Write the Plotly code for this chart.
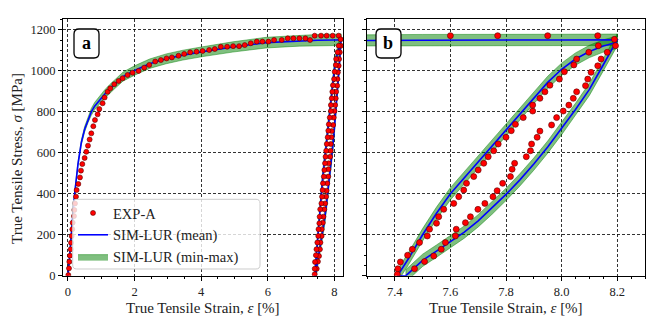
import plotly.graph_objects as go

W, H = 664, 332

# ---------------- data ----------------
# experimental: loading branch
exp_load_x = [0.01, 0.03, 0.04, 0.06, 0.08, 0.09, 0.11, 0.13, 0.14, 0.18, 0.19, 0.21, 0.24, 0.26,
              0.31, 0.36, 0.39, 0.43, 0.50, 0.55, 0.60, 0.65, 0.70, 0.76, 0.81, 0.89, 0.94, 1.04,
              1.10, 1.19, 1.27, 1.39, 1.52, 1.64, 1.79, 1.94, 2.12, 2.29, 2.44, 2.62, 2.79, 2.96,
              3.12, 3.32, 3.49, 3.67, 3.86, 4.04, 4.24, 4.41, 4.59, 4.78, 4.96, 5.14, 5.31, 5.49,
              5.67, 5.84, 6.02, 6.19, 6.42, 6.60, 6.77, 6.95, 7.13, 7.27, 7.41, 7.60, 7.77, 7.95,
              8.13, 8.19]
exp_load_y = [3, 36, 68, 98, 129, 161, 194, 227, 259, 291, 321, 353, 386, 418,
              448, 480, 513, 545, 575, 605, 635, 665, 695, 730, 760, 788, 814, 842,
              870, 898, 915, 935, 951, 964, 980, 991, 1000, 1016, 1029, 1046, 1053, 1061,
              1066, 1074, 1083, 1091, 1094, 1097, 1102, 1107, 1118, 1118, 1121, 1121, 1126, 1135,
              1143, 1143, 1143, 1151, 1151, 1159, 1159, 1159, 1159, 1151, 1172, 1172, 1172, 1172,
              1172, 1154]
# experimental: unloading branch
exp_unl_x = [8.194, 8.164, 8.142, 8.130, 8.106, 8.094, 8.086, 8.054, 8.042, 8.026, 8.006, 7.982,
             7.964, 7.922, 7.912, 7.892, 7.888, 7.873, 7.831, 7.822, 7.816, 7.788, 7.768, 7.753,
             7.724, 7.699, 7.672, 7.654, 7.621, 7.618, 7.582, 7.567, 7.540, 7.507, 7.471]
exp_unl_y = [1123, 1091, 1058, 1025, 993, 960, 928, 898, 866, 833, 804, 772,
             736, 706, 676, 643, 610, 581, 549, 520, 484, 451, 415, 386,
             353, 324, 288, 259, 227, 194, 162, 129, 96, 69, 34]
# experimental: reloading branch
exp_rel_x = [7.409, 7.411, 7.420, 7.446, 7.463, 7.489, 7.517, 7.525, 7.550, 7.558, 7.576, 7.612,
             7.630, 7.648, 7.658, 7.684, 7.700, 7.720, 7.736, 7.756, 7.772, 7.800, 7.819, 7.834,
             7.862, 7.896, 7.896, 7.922, 7.940, 7.958, 7.992, 8.010, 8.044, 8.054, 8.098, 8.132]
exp_rel_y = [7, 34, 67, 100, 129, 162, 194, 227, 256, 288, 324, 353,
             386, 418, 451, 484, 516, 549, 581, 610, 643, 676, 708, 739,
             772, 804, 833, 866, 898, 930, 960, 996, 1029, 1058, 1091, 1123]

# simulation: loading
sim_load_x = [0, 0.1, 0.2, 0.3, 0.4, 0.5, 0.6, 0.7, 0.8, 0.95, 1.1, 1.25, 1.4, 1.65, 2.0, 2.45,
              2.95, 3.45, 4.05, 4.95, 5.95, 6.95, 7.5, 8.0, 8.2]
sim_load_mean = [0, 200, 400, 545, 650, 715, 762, 800, 828, 858, 886, 912, 935, 972, 1002, 1035,
                 1059, 1077, 1094, 1117, 1138, 1148, 1150, 1151, 1152]
sim_load_max = [0, 204, 407, 554, 661, 728, 777, 817, 846, 878, 907, 933, 957, 994, 1025, 1058,
                1083, 1101, 1118, 1142, 1164, 1175, 1178, 1179, 1180]
sim_load_min = [0, 196, 393, 536, 639, 702, 747, 783, 810, 838, 865, 891, 913, 950, 979, 1012,
                1035, 1053, 1070, 1092, 1112, 1121, 1122, 1123, 1124]
# simulation: unloading
sim_unl_x = [8.2, 8.15, 8.1, 8.05, 8.0, 7.95, 7.9, 7.85, 7.8, 7.75, 7.7, 7.65, 7.6, 7.55, 7.5, 7.45, 7.44]
sim_unl_mean = [1152, 1030, 910, 812, 718, 628, 545, 468, 397, 330, 268, 213, 165, 120, 75, 12, 0]
sim_unl_max = [1182, 1060, 940, 842, 748, 658, 575, 498, 427, 360, 298, 243, 195, 150, 105, 42, 30]
sim_unl_min = [1122, 1000, 880, 782, 688, 598, 515, 438, 367, 300, 238, 183, 135, 90, 45, -18, -30]
# simulation: reloading
sim_rel_x = [7.41, 7.45, 7.5, 7.55, 7.6, 7.65, 7.7, 7.75, 7.8, 7.85, 7.9, 7.95, 8.0, 8.05, 8.1, 8.15, 8.2]
sim_rel_mean = [0, 85, 200, 305, 400, 478, 555, 632, 710, 790, 870, 944, 1008, 1058, 1095, 1122, 1140]
sim_rel_max = [30, 115, 230, 335, 430, 508, 585, 662, 740, 820, 900, 974, 1038, 1088, 1125, 1152, 1170]
sim_rel_min = [-30, 55, 170, 275, 370, 448, 525, 602, 680, 760, 840, 914, 978, 1028, 1065, 1092, 1110]

left_xticks = [0, 2, 4, 6, 8]
right_xticks = [7.4, 7.6, 7.8, 8.0, 8.2]
yticks = [0, 200, 400, 600, 800, 1000, 1200]

FONT = "'Liberation Serif', 'DejaVu Serif', serif"
BAND_FILL = "rgba(0,128,0,0.5)"
BAND_LINE = "rgba(0,128,0,0.45)"

fig = go.Figure()

exp_x = exp_load_x + exp_unl_x + exp_rel_x
exp_y = exp_load_y + exp_unl_y + exp_rel_y
sim_x = sim_load_x + sim_unl_x + sim_rel_x
sim_y = sim_load_mean + sim_unl_mean + sim_rel_mean

bands = [(sim_load_x, sim_load_min, sim_load_max),
         (sim_unl_x, sim_unl_min, sim_unl_max),
         (sim_rel_x, sim_rel_min, sim_rel_max)]

for ax, msize, first in [("", 5.0, True), ("2", 6.0, False)]:
    xa, ya = "x" + ax, "y" + ax
    for i, (bx, bmin, bmax) in enumerate(bands):
        fig.add_trace(go.Scatter(
            x=list(bx) + list(bx)[::-1], y=list(bmax) + list(bmin)[::-1],
            fill="toself", fillcolor=BAND_FILL, mode="lines",
            line=dict(color=BAND_LINE, width=1),
            name="SIM-LUR (min-max)", legendgroup="band", legendrank=3,
            showlegend=(first and i == 0), xaxis=xa, yaxis=ya, hoverinfo="skip"))
    fig.add_trace(go.Scatter(
        x=sim_x, y=sim_y, mode="lines", line=dict(color="#0000ff", width=1.6),
        name="SIM-LUR (mean)", legendgroup="mean", legendrank=2,
        showlegend=first, xaxis=xa, yaxis=ya))
    fig.add_trace(go.Scatter(
        x=exp_x, y=exp_y, mode="markers",
        marker=dict(color="#ff0000", size=msize, line=dict(color="#5a0000", width=0.6)),
        name="EXP-A", legendgroup="exp", legendrank=1,
        showlegend=first, xaxis=xa, yaxis=ya))

def px2paper(px, py):
    return px / W, 1 - py / H

def rrect(x0, y0, x1, y1, r):
    def P(x, y):
        a, b = px2paper(x, y)
        return f"{a:.5f},{b:.5f}"
    return (f"M {P(x0 + r, y0)} L {P(x1 - r, y0)} Q {P(x1, y0)} {P(x1, y0 + r)} "
            f"L {P(x1, y1 - r)} Q {P(x1, y1)} {P(x1 - r, y1)} L {P(x0 + r, y1)} "
            f"Q {P(x0, y1)} {P(x0, y1 - r)} L {P(x0, y0 + r)} Q {P(x0, y0)} {P(x0 + r, y0)} Z")

grid = dict(showgrid=True, gridcolor="rgba(0,0,0,0.8)", gridwidth=0.8, griddash="3px,2px")
common = dict(showline=True, linecolor="black", linewidth=1.2, mirror=True, zeroline=False,
              ticks="outside", ticklen=4, tickwidth=1, tickcolor="black", automargin=False,
              tickfont=dict(family=FONT, size=12.5, color="#222"), **grid)

y0d, y1d = 1 - 275.7 / H, 1 - 19.3 / H

def ann(text, px, py, size, **kw):
    x, y = px2paper(px, py)
    return dict(text=text, x=x, y=y, xref="paper", yref="paper", xanchor="center",
                yanchor="middle", showarrow=False,
                font=dict(family=FONT, size=size, color=kw.pop("color", "#222")), **kw)

fig.update_layout(
    width=W, height=H, margin=dict(l=0, r=0, t=0, b=0, autoexpand=False),
    plot_bgcolor="white", paper_bgcolor="white",
    font=dict(family=FONT, color="#222"),
    xaxis=dict(domain=[63 / W, 343 / W], range=[-0.15, 8.26], tickvals=left_xticks,
               minor=dict(dtick=0.5, tick0=0, ticks="outside", ticklen=2, tickcolor="black", showgrid=False),
               anchor="y", **common),
    yaxis=dict(domain=[y0d, y1d], range=[0, 1252], tickvals=yticks,
               minor=dict(dtick=50, tick0=0, ticks="outside", ticklen=2, tickcolor="black", showgrid=False),
               anchor="x", **common),
    xaxis2=dict(domain=[367 / W, 645 / W], range=[7.3, 8.3], tickvals=right_xticks, tickformat=".1f",
                minor=dict(dtick=0.05, tick0=7.3, ticks="outside", ticklen=2, tickcolor="black", showgrid=False),
                anchor="y2", **common),
    yaxis2=dict(domain=[y0d, y1d], range=[0, 1252], tickvals=yticks, matches="y", showticklabels=False,
                minor=dict(dtick=50, tick0=0, ticks="outside", ticklen=2, tickcolor="black", showgrid=False),
                anchor="x2", **common),
    showlegend=True,
    legend=dict(x=73 / W, y=1 - 197 / H, xanchor="left", yanchor="top",
                bgcolor="rgba(0,0,0,0)", borderwidth=0, traceorder="normal",
                font=dict(family=FONT, size=14.5, color="#222"), itemwidth=30,
                tracegroupgap=0),
    shapes=[
        dict(type="path", path=rrect(72.7, 199.3, 260, 269, 4), xref="paper", yref="paper",
             fillcolor="rgba(255,255,255,0.8)", line=dict(color="#cccccc", width=1), layer="above"),
        dict(type="path", path=rrect(74, 29, 99, 58, 5), xref="paper", yref="paper",
             fillcolor="white", line=dict(color="black", width=1.3), layer="above"),
        dict(type="path", path=rrect(376, 29, 401, 58, 5), xref="paper", yref="paper",
             fillcolor="white", line=dict(color="black", width=1.3), layer="above"),
    ],
    annotations=[
        ann("<b>a</b>", 86.5, 43.5, 18, color="black"),
        ann("<b>b</b>", 388.5, 43.5, 18, color="black"),
        ann("True Tensile Strain, <i>ε</i> [%]", 203, 308, 15),
        ann("True Tensile Strain, <i>ε</i> [%]", 506, 308, 15),
        ann("True Tensile Stress, <i>σ</i> [MPa]", 17, 159, 15, textangle=-90),
    ],
)

fig.write_html("out.html", config={"displayModeBar": False},
               post_script="document.body.style.margin='0';document.body.style.padding='0';")
